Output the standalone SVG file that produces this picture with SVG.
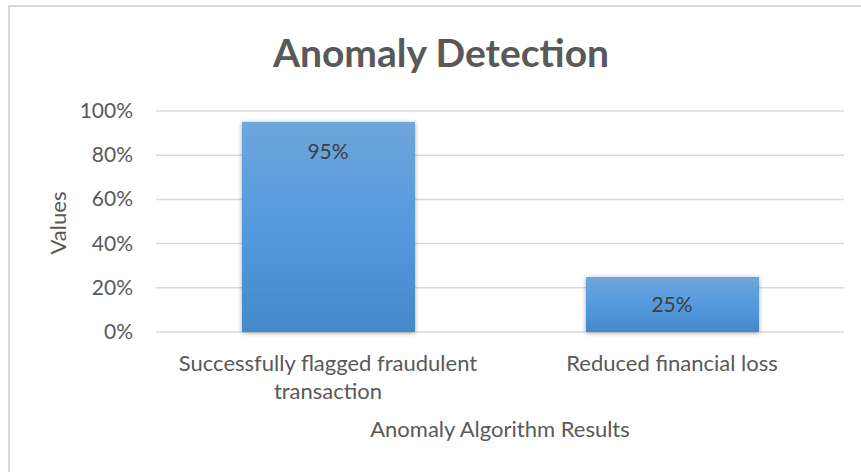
<svg xmlns="http://www.w3.org/2000/svg" width="861" height="472" viewBox="0 0 861 472">
  <style>
    text { font-family: Lato, "Open Sans", "Liberation Sans", sans-serif; fill: #595959; }
    .title { font-size: 39px; font-weight: bold; }
    .tick { font-size: 21px; text-anchor: end; }
    .cat { font-size: 22px; text-anchor: middle; }
    .axis { font-size: 22px; text-anchor: middle; }
    .val { font-size: 21px; text-anchor: middle; fill: #404040; }
    .grid { stroke: #d9d9d9; stroke-width: 1.5; }
    .bar { fill: url(#barFill); filter: url(#barShadow); }
  </style>
  <defs>
    <linearGradient id="barFill" x1="0" y1="0" x2="0" y2="1">
      <stop offset="0" stop-color="#6fa6dc"/>
      <stop offset="0.5" stop-color="#549ade"/>
      <stop offset="1" stop-color="#4589c9"/>
    </linearGradient>
    <filter id="barShadow" x="-10%" y="-10%" width="120%" height="120%">
      <feGaussianBlur in="SourceAlpha" stdDeviation="2.5"/>
      <feOffset dx="0" dy="1" result="blur"/>
      <feComponentTransfer><feFuncA type="linear" slope="0.35"/></feComponentTransfer>
      <feMerge><feMergeNode/><feMergeNode in="SourceGraphic"/></feMerge>
    </filter>
  </defs>

  <!-- chart frame -->
  <rect x="0" y="0" width="861" height="472" fill="#ffffff"/>
  <path d="M9 472 V6 H861" fill="none" stroke="#d9d9d9" stroke-width="2"/>

  <!-- title -->
  <text class="title" x="441" y="67" text-anchor="middle">Anomaly Detection</text>

  <!-- gridlines -->
  <g id="gridlines">
    <line class="grid" x1="156" y1="111" x2="844" y2="111"/>
    <line class="grid" x1="156" y1="155.2" x2="844" y2="155.2"/>
    <line class="grid" x1="156" y1="199.4" x2="844" y2="199.4"/>
    <line class="grid" x1="156" y1="243.6" x2="844" y2="243.6"/>
    <line class="grid" x1="156" y1="287.8" x2="844" y2="287.8"/>
    <line class="grid" x1="156" y1="332" x2="844" y2="332"/>
  </g>

  <!-- value axis -->
  <g id="value-axis">
    <text class="tick" x="133" y="118">100%</text>
    <text class="tick" x="133" y="162">80%</text>
    <text class="tick" x="133" y="206">60%</text>
    <text class="tick" x="133" y="251">40%</text>
    <text class="tick" x="133" y="295">20%</text>
    <text class="tick" x="133" y="339">0%</text>
    <text class="axis" transform="translate(66 223) rotate(-90)">Values</text>
  </g>

  <!-- bars -->
  <g id="bar-flagged">
    <rect class="bar" x="242" y="122" width="173" height="210"/>
    <text class="val" x="328" y="159">95%</text>
  </g>
  <g id="bar-loss">
    <rect class="bar" x="586" y="277" width="173" height="55"/>
    <text class="val" x="672" y="312">25%</text>
  </g>

  <!-- category axis -->
  <g id="category-axis">
    <text class="cat" x="328" y="371">Successfully flagged fraudulent</text>
    <text class="cat" x="328" y="399">transaction</text>
    <text class="cat" x="672" y="371">Reduced financial loss</text>
    <text class="axis" x="500" y="437">Anomaly Algorithm Results</text>
  </g>
</svg>
